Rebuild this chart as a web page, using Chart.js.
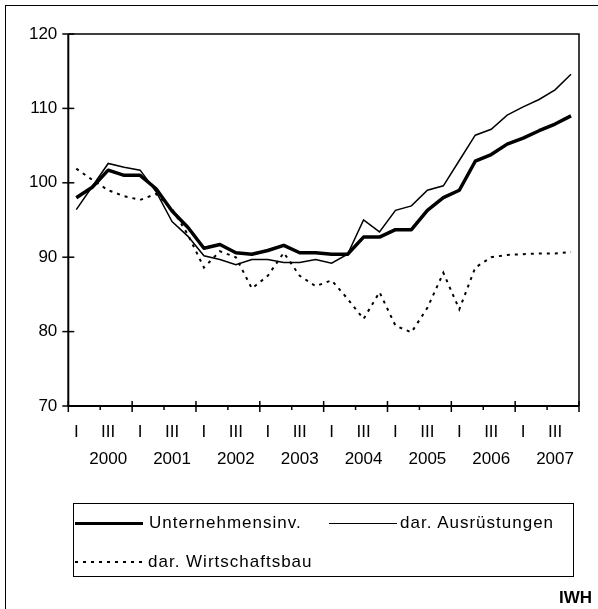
<!DOCTYPE html>
<html><head><meta charset="utf-8">
<script src="https://cdn.jsdelivr.net/npm/chart.js@4.4.1/dist/chart.umd.min.js"></script>
<style>
html,body{margin:0;padding:0;background:#fff;overflow:hidden;}
#wrap{position:relative;width:598px;height:609px;overflow:hidden;}
#frame{position:absolute;left:5px;top:5px;width:700px;height:700px;border:1px solid #000;box-sizing:border-box;}
#c{position:absolute;left:0;top:0;}
#legend{position:absolute;left:73px;top:503px;width:501px;height:74px;border:1px solid #000;box-sizing:border-box;font:17px "Liberation Sans",Arial,sans-serif;letter-spacing:1px;color:#000;}
.item{position:absolute;display:flex;align-items:center;height:20px;white-space:nowrap;}
.sample{display:inline-block;width:68px;}
#iwh{position:absolute;right:6px;top:588px;font:bold 17px "Liberation Sans",Arial,sans-serif;color:#000;}
</style></head>
<body>
<div id="wrap">
<div id="frame"></div>
<canvas id="c" width="598" height="609"></canvas>
<div id="legend">
  <div class="item" style="left:1px;top:9px;"><span class="sample" style="border-top:3.5px solid #000;margin-right:6px;"></span><span>Unternehmensinv.</span></div>
  <div class="item" style="left:255px;top:9px;"><span class="sample" style="border-top:1.5px solid #000;margin-right:3px;"></span><span>dar. Ausrüstungen</span></div>
  <div class="item" style="left:1px;top:48px;"><span class="sample" style="height:2px;background:repeating-linear-gradient(to right,#000 0 3px,transparent 3px 8px);margin-right:5px;"></span><span>dar. Wirtschaftsbau</span></div>
</div>
<div id="iwh">IWH</div>
</div>
<script>
// ---- data ----
const years = ['2000','2001','2002','2003','2004','2005','2006','2007'];
const quarterNames = ['I','II','III','IV'];
const seriesNames = ['Unternehmensinv.','dar. Ausrüstungen','dar. Wirtschaftsbau'];
const unternehmensinv = [98.0,99.4,101.7,101.0,101.0,99.2,96.2,94.0,
  91.2,91.7,90.6,90.4,90.9,91.6,90.6,90.6,
  90.4,90.4,92.7,92.7,93.7,93.7,96.3,98.0,
  99.0,102.9,103.8,105.2,106.0,107.0,107.9,109.0];
const ausruestungen = [96.4,99.5,102.6,102.1,101.7,98.8,94.8,92.8,
  90.2,89.7,89.0,89.7,89.7,89.3,89.3,89.7,
  89.2,90.4,95.0,93.4,96.3,96.9,99.0,99.6,
  103.0,106.4,107.2,109.1,110.2,111.2,112.5,114.6];
const wirtschaftsbau = [101.9,100.4,99.0,98.2,97.7,98.5,96.5,93.0,
  88.6,90.8,90.0,85.8,87.5,90.6,87.5,86.1,
  86.9,84.4,81.7,85.3,80.8,79.9,83.2,87.9,
  83.0,88.6,90.0,90.3,90.4,90.5,90.5,90.7];
const yTicks = [70,80,90,100,110,120];

const categories = [];
years.forEach(y => quarterNames.forEach(q => categories.push(q + ' ' + y)));

const FONT = '"Liberation Sans", Arial, sans-serif';

const marks = {
  id: 'marks',
  afterDraw(chart) {
    const {ctx, chartArea: a, scales: {x, y}} = chart;
    ctx.save();
    ctx.strokeStyle = '#000';
    ctx.lineWidth = 1.5;
    ctx.beginPath();
    ctx.moveTo(a.left, a.top); ctx.lineTo(a.right, a.top); ctx.lineTo(a.right, a.bottom);
    ctx.stroke();
    ctx.lineWidth = 2;
    ctx.beginPath();
    ctx.moveTo(a.left, a.top); ctx.lineTo(a.left, a.bottom); ctx.lineTo(a.right, a.bottom);
    ctx.stroke();
    ctx.lineWidth = 1.5;
    yTicks.forEach(v => {
      const py = y.getPixelForValue(v);
      ctx.beginPath(); ctx.moveTo(a.left - 6, py); ctx.lineTo(a.left + 6, py); ctx.stroke();
    });
    const half = (x.getPixelForValue(1) - x.getPixelForValue(0)) / 2;
    for (let i = 0; i <= categories.length; i++) {
      const px = (i < categories.length ? x.getPixelForValue(i) : x.getPixelForValue(categories.length - 1) + 2 * half) - half;
      if (i % 4 === 0) {
        ctx.beginPath(); ctx.moveTo(px, a.bottom - 5); ctx.lineTo(px, a.bottom + 6); ctx.stroke();
      } else if (i % 4 === 2) {
        ctx.beginPath(); ctx.moveTo(px, a.bottom); ctx.lineTo(px, a.bottom + 4); ctx.stroke();
      }
    }
    ctx.restore();
  }
};

new Chart(document.getElementById('c'), {
  type: 'line',
  data: {
    labels: categories,
    datasets: [
      {label: seriesNames[0], data: unternehmensinv, borderColor: '#000', borderWidth: 3.5, pointRadius: 0, tension: 0, fill: false, borderJoinStyle: 'round'},
      {label: seriesNames[1], data: ausruestungen, borderColor: '#000', borderWidth: 1.5, pointRadius: 0, tension: 0, fill: false},
      {label: seriesNames[2], data: wirtschaftsbau, borderColor: '#000', borderWidth: 2, borderDash: [3, 5], pointRadius: 0, tension: 0, fill: false}
    ]
  },
  options: {
    responsive: false,
    animation: false,
    events: [],
    layout: {padding: {top: 34, right: 19, bottom: 133, left: 0}},
    plugins: {legend: {display: false}, tooltip: {enabled: false}},
    scales: {
      x: {
        type: 'category',
        offset: true,
        grid: {display: false, drawTicks: false},
        border: {display: false},
        ticks: {
          autoSkip: false, maxRotation: 0, minRotation: 0, padding: 13, color: '#000',
          font: {family: FONT, size: 17, lineHeight: 1.6},
          callback: function (val, idx) {
            const q = idx % 4;
            if (q === 0) return 'I';
            if (q === 2) return ['III', years[Math.floor(idx / 4)]];
            return '';
          }
        },
        afterFit(s) { s.height = 70; }
      },
      y: {
        min: 70, max: 120,
        grid: {display: false, drawTicks: false},
        border: {display: false},
        ticks: {stepSize: 10, padding: 11, color: '#000', font: {family: FONT, size: 17}},
        afterFit(s) { s.width = 68.3; }
      }
    }
  },
  plugins: [marks]
});
</script>
</body></html>
